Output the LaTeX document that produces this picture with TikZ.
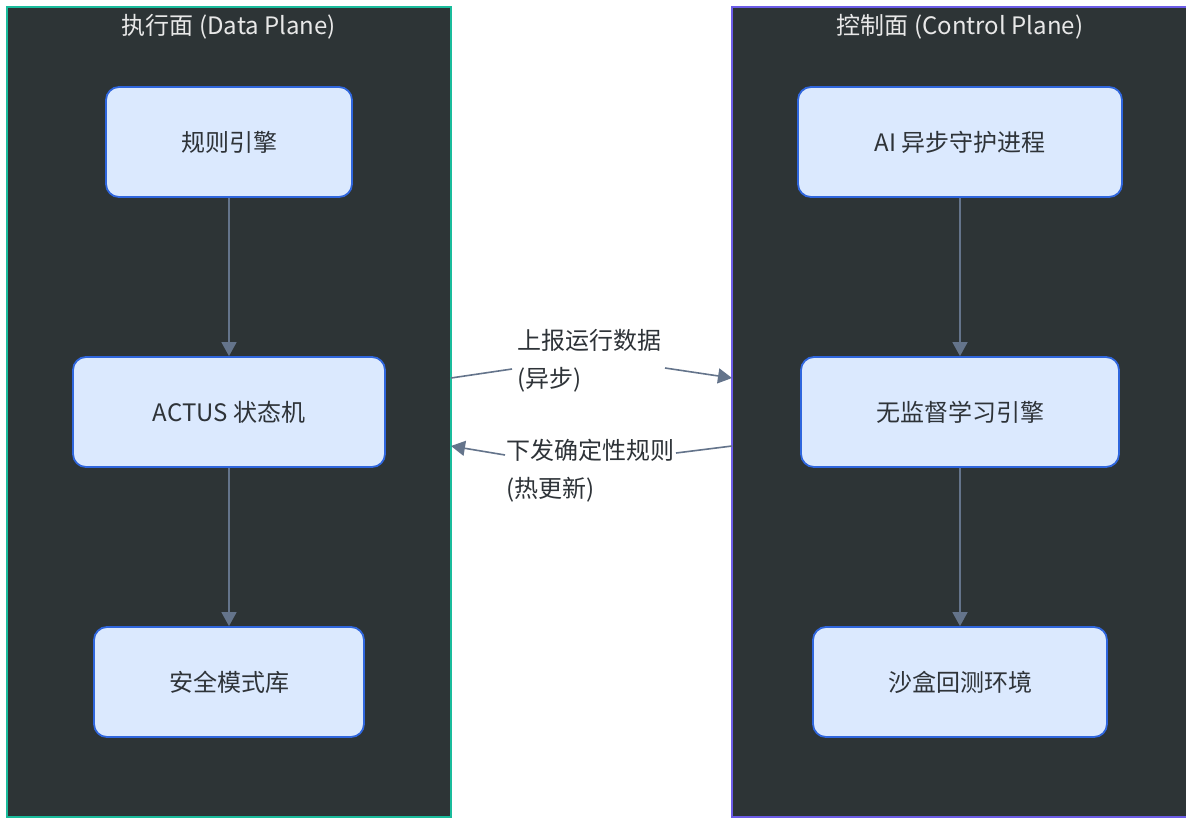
\documentclass[tikz,border=0pt]{standalone}
\usepackage{fontspec}
\setmainfont{Noto Sans CJK SC}
\usetikzlibrary{arrows.meta}
\definecolor{panelbg}{HTML}{2D3436}
\definecolor{dataedge}{HTML}{1ABC9C}
\definecolor{ctrledge}{HTML}{6C5CE7}
\definecolor{boxfill}{HTML}{DBE9FE}
\definecolor{boxline}{HTML}{2F66DD}
\definecolor{linkcol}{HTML}{64748B}
\definecolor{labeltext}{HTML}{2E3338}
\definecolor{titletext}{HTML}{E8E8E8}
\tikzset{
  panel/.style={fill=panelbg, line width=2pt},
  stepbox/.style={draw=boxline, fill=boxfill, line width=1.8pt, rounded corners=13pt,
    text=labeltext, font=\fontsize{24}{28}\selectfont},
  paneltitle/.style={text=titletext, font=\fontsize{24}{28}\selectfont},
  linklabel/.style={text=labeltext, font=\fontsize{24}{38}\selectfont, align=left,
    inner sep=0pt, anchor=base west},
  link/.style={draw=linkcol, line width=1.6pt},
  tip/.style={-{Triangle[length=14pt,width=15pt]}}
}
\begin{document}
\begin{tikzpicture}[x=1pt,y=-1pt]
\useasboundingbox (0,0) rectangle (1186,819);
\fill[white] (0,0) rectangle (1186,819);

% clusters
\draw[panel, draw=dataedge] (7,7) rectangle (451,817);
\draw[panel, draw=ctrledge] (732,7) rectangle (1196,817);
\node[paneltitle] (tdata) at (229,27) {执行面 (Data Plane)};
\node[paneltitle] (tctrl) at (960,27) {控制面 (Control Plane)};

% data plane steps
\path[stepbox] (106,87) rectangle (352,197);
\node[stepbox, draw=none, fill=none, minimum width=246pt, minimum height=110pt] (rules) at (229,142) {规则引擎};
\path[stepbox] (73,357) rectangle (385,467);
\node[stepbox, draw=none, fill=none, minimum width=312pt, minimum height=110pt] (actus) at (229,412) {ACTUS 状态机};
\path[stepbox] (94,627) rectangle (364,737);
\node[stepbox, draw=none, fill=none, minimum width=270pt, minimum height=110pt] (safe) at (229,682) {安全模式库};

% control plane steps
\path[stepbox] (798,87) rectangle (1122,197);
\node[stepbox, draw=none, fill=none, minimum width=324pt, minimum height=110pt] (daemon) at (960,142) {AI 异步守护进程};
\path[stepbox] (801,357) rectangle (1119,467);
\node[stepbox, draw=none, fill=none, minimum width=318pt, minimum height=110pt] (learn) at (960,412) {无监督学习引擎};
\path[stepbox] (813,627) rectangle (1107,737);
\node[stepbox, draw=none, fill=none, minimum width=294pt, minimum height=110pt] (sandbox) at (960,682) {沙盒回测环境};

% vertical links
\draw[link, tip] (rules.south) -- (actus.north);
\draw[link, tip] (actus.south) -- (safe.north);
\draw[link, tip] (daemon.south) -- (learn.north);
\draw[link, tip] (learn.south) -- (sandbox.north);

% cross-plane links (base anchor sits on the last line)
\coordinate (upL) at (451,378);
\coordinate (upR) at (732,378);
\coordinate (dnR) at (732,446);
\coordinate (dnL) at (451,446);
\node[linklabel] (uplbl) at (517,387) {上报运行数据\\(异步)};
\node[linklabel] (dnlbl) at (506,497) {下发确定性规则\\(热更新)};
\coordinate (upA) at (512,369);
\coordinate (upB) at (665,368);
\coordinate (dnA) at (676,453);
\coordinate (dnB) at (505,455);
\draw[link] (upL) -- (upA);
\draw[link, tip] (upB) -- (upR);
\draw[link] (dnR) -- (dnA);
\draw[link, tip] (dnB) -- (dnL);
\end{tikzpicture}
\end{document}
